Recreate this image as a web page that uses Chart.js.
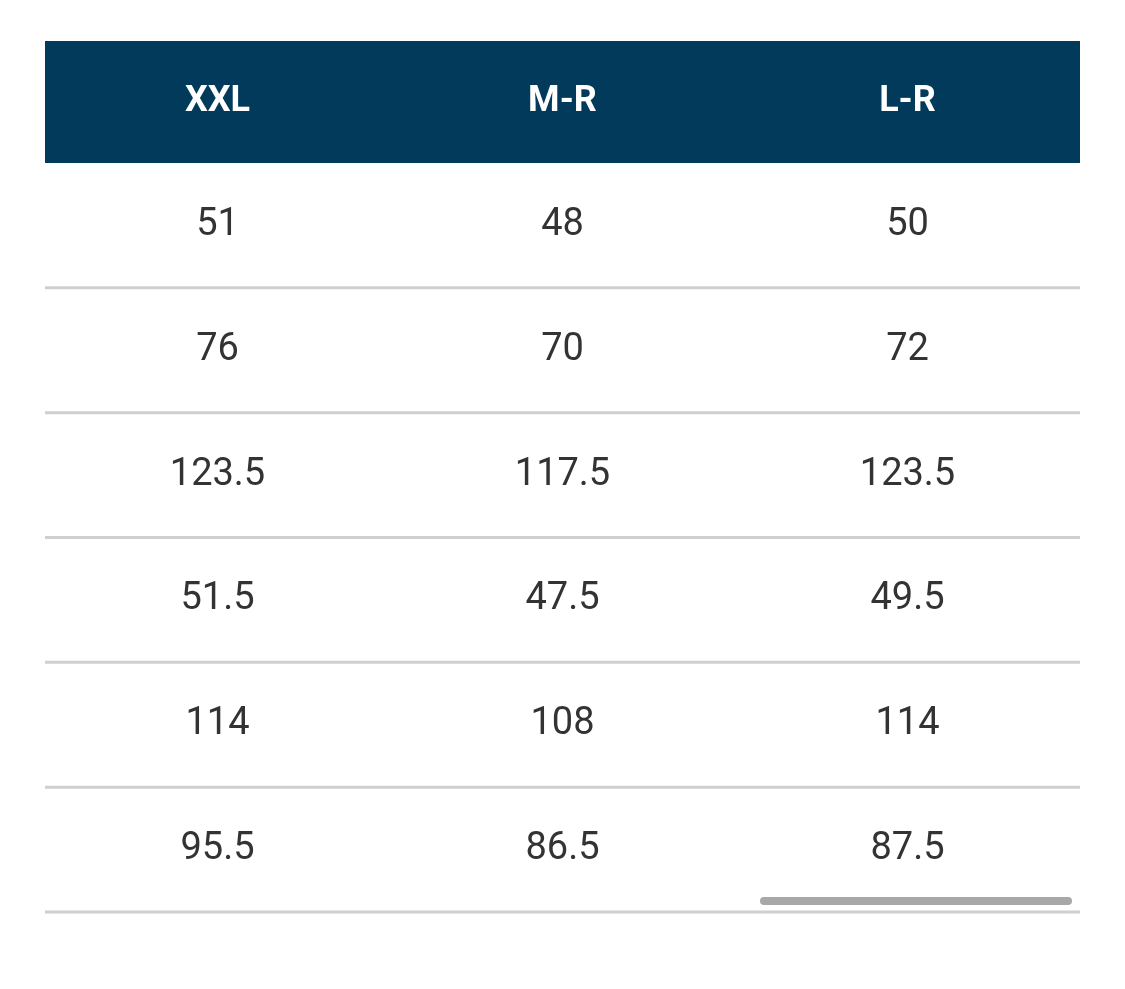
<!DOCTYPE html>
<html>
<head>
<meta charset="utf-8">
<script src="https://cdn.jsdelivr.net/npm/chart.js@4"></script>
<style>
  body { margin: 0; background: #fff; }
  #wrap { width: 1125px; height: 989px; }
</style>
</head>
<body>
<div id="wrap"><canvas id="canvas"></canvas></div>
<script>
// column headers and the values per column (top to bottom)
const columns = ["XXL", "M-R", "L-R"]
const xxlValues = [51, 76, 123.5, 51.5, 114, 95.5]
const mrValues = [48, 70, 117.5, 47.5, 108, 86.5]
const lrValues = [50, 72, 123.5, 49.5, 114, 87.5]
const seriesValues = [xxlValues, mrValues, lrValues]

const headerColor = "#023a5c"
const lineColor = "#cfcfcf"

const tablePlugin = {
  id: "table",
  afterDraw(chart) {
    const ctx = chart.ctx
    const area = chart.chartArea
    const x = chart.scales.x
    const y = chart.scales.y
    ctx.save()

    // header band
    ctx.fillStyle = headerColor
    ctx.fillRect(area.left, 41, area.right - area.left, area.top - 41)
    ctx.fillStyle = "#ffffff"
    ctx.font = "bold 36px Roboto, 'Open Sans', sans-serif"
    ctx.textAlign = "center"
    ctx.textBaseline = "middle"
    columns.forEach((c, i) => {
      ctx.fillText(c, x.getPixelForValue(i), (41 + area.top) / 2)
    })

    // row separators
    ctx.strokeStyle = lineColor
    ctx.lineWidth = 3
    for (let r = 1; r <= xxlValues.length; r++) {
      const py = y.getPixelForValue(r)
      ctx.beginPath()
      ctx.moveTo(area.left, py)
      ctx.lineTo(area.right, py)
      ctx.stroke()
    }

    // cell values
    ctx.fillStyle = "#333333"
    ctx.font = "38px Roboto, 'Open Sans', sans-serif"
    chart.data.datasets.forEach((ds, di) => {
      const meta = chart.getDatasetMeta(di)
      meta.data.forEach((pt, i) => {
        ctx.fillText(String(ds.data[i].v), pt.x, pt.y)
      })
    })

    // scroll indicator
    ctx.strokeStyle = "#a8a8a8"
    ctx.lineWidth = 8
    ctx.lineCap = "round"
    ctx.beginPath()
    ctx.moveTo(764, 901)
    ctx.lineTo(1068, 901)
    ctx.stroke()
    ctx.restore()
  }
}

const datasets = seriesValues.map((vals, ci) => ({
  label: columns[ci],
  data: vals.map((v, r) => ({ x: ci, y: r + 0.5, v: v })),
  pointRadius: 0,
  showLine: false
}))

new Chart(document.getElementById("canvas").getContext("2d"), {
  type: "scatter",
  data: { datasets },
  plugins: [tablePlugin],
  options: {
    responsive: true,
    maintainAspectRatio: false,
    animation: false,
    layout: { padding: { left: 45, right: 45, top: 163, bottom: 77 } },
    plugins: { legend: { display: false }, tooltip: { enabled: false } },
    scales: {
      x: { type: "linear", min: -0.5, max: 2.5, display: false },
      y: { type: "linear", min: 0, max: 6, reverse: true, display: false }
    }
  }
})
</script>
</body>
</html>
